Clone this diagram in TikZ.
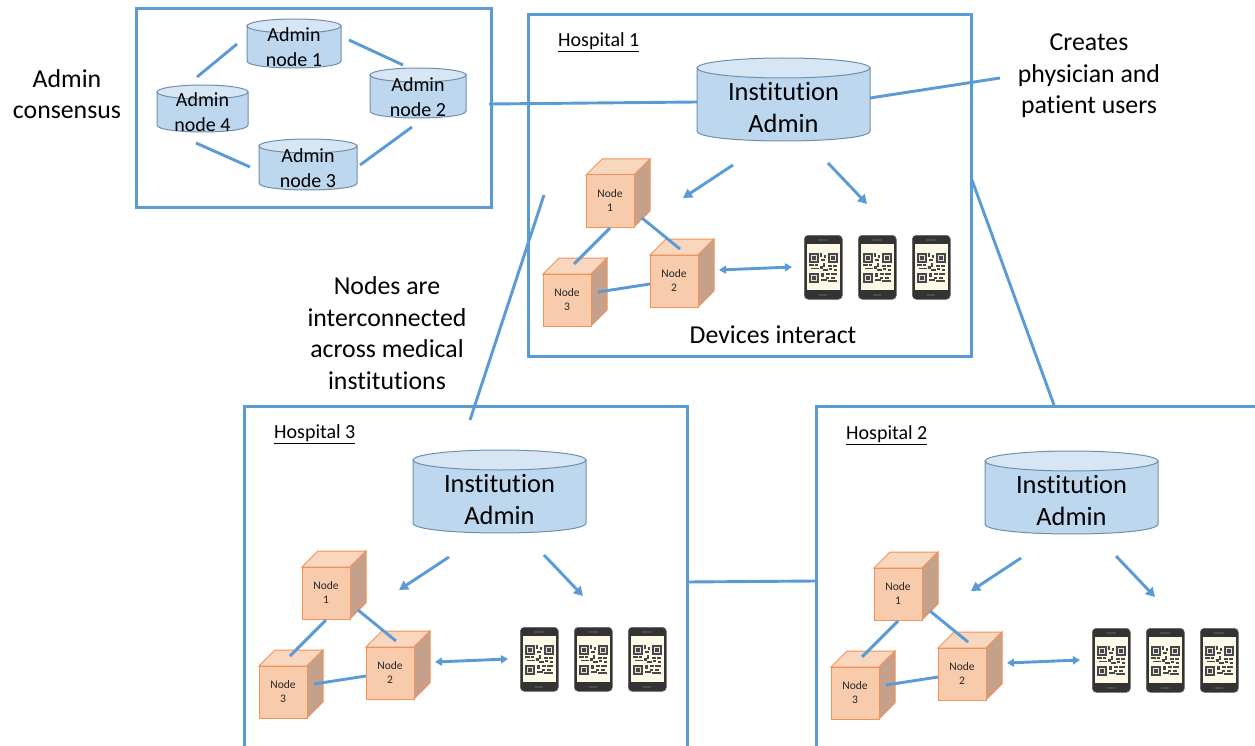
\documentclass[tikz,border=0pt]{standalone}
\usepackage{fontspec}
\setmainfont[Ligatures=NoCommon]{Carlito}
\usetikzlibrary{arrows.meta}
\definecolor{linkblue}{HTML}{5B9BD5}
\definecolor{cylfill}{HTML}{BDD7EE}
\definecolor{cyltop}{HTML}{D6E6F4}
\definecolor{cylline}{HTML}{6F8FAB}
\definecolor{cubefill}{HTML}{F7CBAC}
\definecolor{cubetop}{HTML}{F9D6BE}
\definecolor{cubeside}{HTML}{C5A08A}
\definecolor{cubeline}{HTML}{F0925A}
\definecolor{screenbg}{HTML}{FFF9E8}
\definecolor{phonedark}{HTML}{333333}
\tikzset{
  frame/.style={draw=linkblue,line width=3pt,fill=none,outer sep=0pt},
  link/.style={draw=linkblue,line width=2.9pt},
  tip/.style={draw=linkblue,line width=2.9pt,-{Triangle[length=9pt,width=10pt]}},
  tips/.style={draw=linkblue,line width=2.9pt,{Triangle[length=7pt,width=8pt]}-{Triangle[length=7pt,width=8pt]}},
  caption/.style={align=center,inner sep=0pt,font=\fontsize{25.8}{31.6}\selectfont},
  hosplabel/.style={anchor=west,inner sep=0pt,font=\fontsize{20}{24}\selectfont},
  cyltext/.style={align=center,inner sep=0pt},
  cubetext/.style={align=center,inner sep=0pt,text=black!85,font=\fontsize{11.5}{14}\selectfont},
  phonebody/.style={draw=black!60,fill=phonedark,rounded corners=4pt,line width=.6pt,minimum width=38pt,minimum height=64pt,inner sep=0pt},
}
% \cyl{name}{x1}{x2}{ytop}{ybot}{ry}{size/leading}{text}{yshift}
\newcommand{\cyl}[9]{%
  \pgfmathsetmacro{\cx}{(#2+#3)/2}\pgfmathsetmacro{\rx}{(#3-#2)/2}%
  \pgfmathsetmacro{\yt}{#4+#6}\pgfmathsetmacro{\yb}{#5-#6}%
  \path[fill=cylfill,draw=cylline,line width=1pt] (#2,\yt) -- (#2,\yb)
     .. controls (#2,\yb+#6*1.33) and (#3,\yb+#6*1.33) .. (#3,\yb) -- (#3,\yt) -- cycle;
  \path[fill=cyltop,draw=cylline,line width=1pt] (\cx,\yt) ellipse [x radius=\rx,y radius=#6];
  \node[cyltext,font=\fontsize#7\selectfont] (#1) at (\cx,{(#4+#5)/2+#9}) {#8};
}
% \cube{name}{x}{y}{text}  front face top-left (x,y): 48 x 52, depth 16
\newcommand{\cube}[4]{%
  \path[fill=cubetop,draw=cubeline,line width=1pt] (#2,#3) -- ++(16,-16) -- ++(48,0) -- ++(-16,16) -- cycle;
  \path[fill=cubeside,draw=cubeline,line width=1pt] (#2+48,#3) -- ++(16,-16) -- ++(0,52) -- ++(-16,16) -- cycle;
  \node[draw=cubeline,fill=cubefill,line width=1pt,minimum width=48pt,minimum height=52pt,inner sep=0pt,outer sep=0pt,cubetext,anchor=north west] (#1) at (#2,#3) {Node\\#4};
}
% \phone{name}{x}{y}  top-left
\newcommand{\phone}[3]{%
  \node[phonebody,anchor=north west] (#1) at (#2,#3) {};
  \begin{scope}[shift={(#2,#3)}]
    \fill[screenbg] (2.5,8.5) rectangle (35.5,54.5);
    \fill[black!70] (14,4) rectangle (24,5.5);
    \fill[black!70] (15,59) rectangle (23,60.5);
    \begin{scope}[black!72]
      \foreach \qx/\qy in {5/18,24/18,5/38}{
        \fill (\qx,\qy) rectangle ++(9.5,9.5);
        \fill[screenbg!60!black!25] (\qx+1.7,\qy+1.7) rectangle ++(6.1,6.1);
        \fill (\qx+3,\qy+3) rectangle ++(3.5,3.5);
      }
      \foreach \qx/\qy/\qw/\qh in {16/18/2/4,20/20/2/3,17/24/4/2,19/28/2/4,16/31/2.5/3,
         5/29/5/1.8,11/29/3/1.8,7/32.5/8/1.8,19/34/5/2,24/30/4/2,29/30/4/2,25/33/3/1.8,
         30/34/3/2,17/38/3/4,22/38/4/2,27/38/6/2,22/42/3/2,27/42/4/2,17/44/6/2,24/45/9/2}{
        \fill (\qx,\qy) rectangle ++(\qw,\qh);
      }
    \end{scope}
  \end{scope}
}
% \conn{style}{name}{x1,y1}{x2,y2}
\newcommand{\conn}[4]{%
  \coordinate (#2a) at (#3);\coordinate (#2b) at (#4);
  \draw[#1] (#2a) -- (#2b);
}
% \hospital{prefix}{dx}{dy}{label}
\newcommand{\hospital}[4]{%
  \begin{scope}[shift={(#2,#3)}]
    \node[hosplabel] (#1label) at (558,42) {\underline{#4}};
    \cyl{#1admin}{697}{870}{58}{141}{10}{{26.4}{32}}{Institution\\Admin}{8}
    \conn{tip}{#1toa}{733,165}{683,198}
    \conn{tip}{#1tob}{828,163}{867,204}
    \cube{#1nodeone}{586}{175}{1}
    \cube{#1nodetwo}{650}{255}{2}
    \cube{#1nodethree}{543}{274}{3}
    \conn{link}{#1la}{610,228}{574,264}
    \conn{link}{#1lb}{642,218}{680,249}
    \conn{link}{#1lc}{598,292}{650,284}
    \conn{tips}{#1ld}{719,270}{792,267}
    \phone{#1pa}{804}{235}
    \phone{#1pb}{858}{235}
    \phone{#1pc}{912}{235}
  \end{scope}
}
\begin{document}
\begin{tikzpicture}[x=1pt,y=-1pt]
\useasboundingbox (0,0) rectangle (1255,746);
\clip (0,0) rectangle (1255,746);
\fill[white] (0,0) rectangle (1255,746);
% frames
\node[frame,minimum width=355pt,minimum height=199pt,anchor=north west,inner sep=0pt] (adminframe) at (136,9) {};
\node[frame,minimum width=443pt,minimum height=341pt,anchor=north west,inner sep=0pt] (hospone) at (528,15) {};
\draw[frame] (244,760) -- (244,406) -- (687,406) -- (687,760);
\draw[frame] (816,760) -- (816,406) -- (1270,406);
% admin cluster
\cyl{aone}{247}{341}{19}{68}{7}{{20}{25}}{Admin\\node 1}{4}
\cyl{atwo}{370}{466}{68}{118}{7}{{20}{25}}{Admin\\node 2}{4}
\cyl{afour}{157}{248}{85}{132}{7}{{20}{25}}{Admin\\node 4}{4}
\cyl{athree}{259}{357}{139}{190}{7}{{20}{25}}{Admin\\node 3}{4}
\conn{link}{aa}{349,40}{403,65}
\conn{link}{ab}{237,44}{197,77}
\conn{link}{ac}{412,127}{360,165}
\conn{link}{ad}{196,143}{250,167}
% hospitals
\hospital{hone}{0}{0}{Hospital 1}
\hospital{hthree}{-284}{392}{Hospital 3}
\hospital{htwo}{288}{393}{Hospital 2}
% captions
\node[caption] (capadmin) at (67,94) {Admin\\consensus};
\node[caption] (capcreate) at (1089,76) {Creates\\physician and\\patient users};
\node[caption] (capdev) at (773,335) {Devices interact};
\node[caption] (capnodes) at (387,333) {Nodes are\\interconnected\\across medical\\institutions};
% long connectors
\coordinate (crossa) at (489,104);
\coordinate (crossb) at (544,195);
\coordinate (crossc) at (470,420);
\coordinate (crossd) at (972,180);
\coordinate (crosse) at (1054,405);
\coordinate (crossf) at (1000,78);
\draw[link] (crossa) -- (697,102);
\draw[link] (870,98) -- (crossf);
\draw[link] (crossb) -- (crossc);
\draw[link] (crossd) -- (crosse);
\draw[link] (687,582) -- (816,581);
\end{tikzpicture}
\end{document}
